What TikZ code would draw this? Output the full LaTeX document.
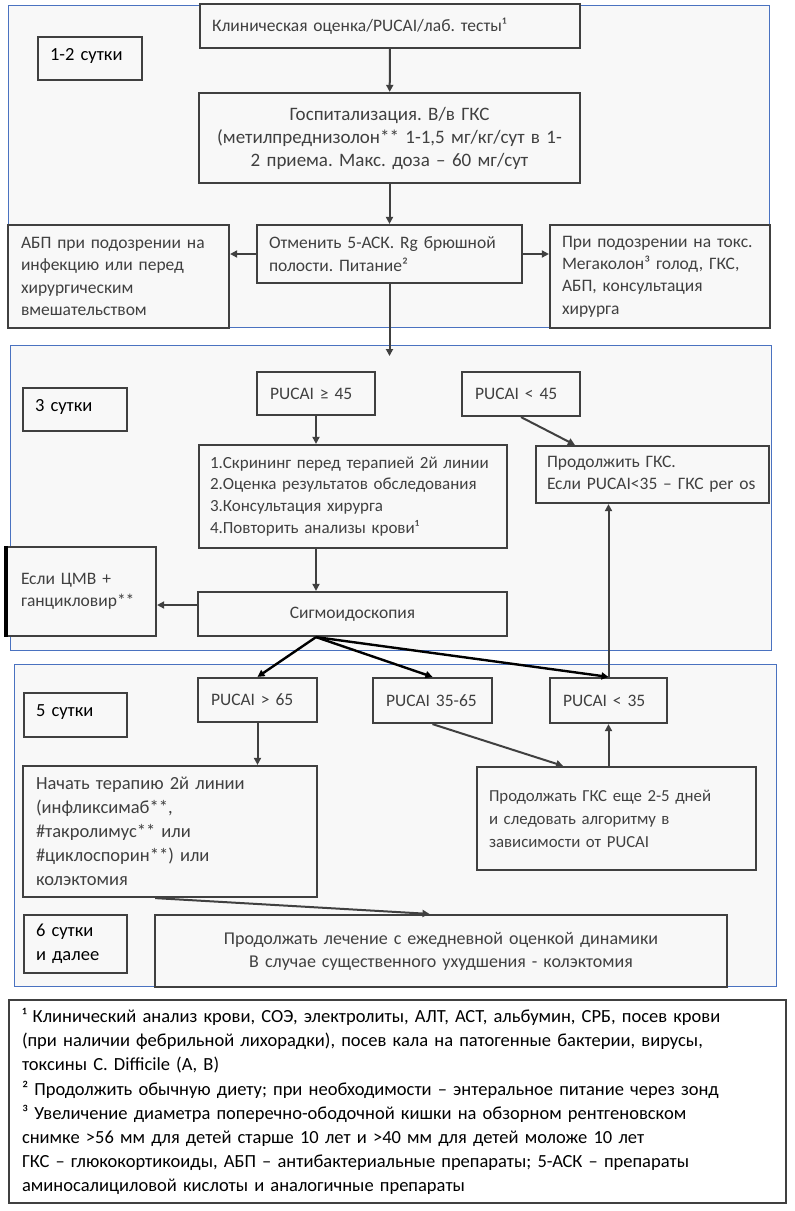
\documentclass[tikz,border=0pt]{standalone}
\usepackage{fontspec}
\setmainfont{Carlito}
\frenchspacing
\usepackage{tikz}
\usetikzlibrary{arrows.meta,calc}
\definecolor{boxline}{HTML}{404040}
\definecolor{frameblue}{HTML}{4A72C0}
\definecolor{paper}{HTML}{F8F8F8}
\definecolor{ink}{HTML}{404040}
\tikzset{dayframe/.style={draw=frameblue,line width=1pt,fill=paper},
  box/.style={rectangle,draw=boxline,line width=2.2pt,fill=paper,text=ink,inner sep=0pt,align=left,font=\fontsize{17.5}{22.3}\selectfont},
  boxwh/.style n args={3}{minimum width=#1,minimum height=#2,text width=#3},
  daybox/.style={box,text=black,font=\fontsize{18.5}{24}\selectfont},
  oneline/.style={text height=12pt,text depth=9pt},
  link/.style={draw=boxline,line width=2pt,->},
  forkline/.style={draw=black,line width=2.4pt,->}}

\begin{document}
\begin{tikzpicture}[x=1pt,y=-1pt,>={Triangle[length=7pt,width=7pt]}]
        \useasboundingbox (0,0) rectangle (795,1211);
        \draw[dayframe] (8,5) rectangle (769,327);
        \draw[dayframe] (10,345) rectangle (771,650);
        \draw[dayframe] (14,664) rectangle (776,986);

        \node[daybox,oneline,boxwh={104}{43}{80}] (day12) at (90,58.5) {1-2 сутки};
        \node[box,boxwh={380}{44}{356}] (clin) at (390,26) {Клиническая оценка/PUCAI/лаб. тесты¹};
        \node[box,align=center,font=\fontsize{19}{23}\selectfont,boxwh={381}{90}{363}] (hosp) at (389.5,138) {Госпитализация. В/в ГКС\\(метилпреднизолон** 1-1,5 мг/кг/сут в 1-\\2 приема. Макс. доза – 60 мг/сут};
        \node[box,boxwh={265}{58}{241}] (stop) at (389.5,254) {Отменить 5-АСК. Rg брюшной\\полости. Питание²};
        \node[box,boxwh={221}{103}{195}] (abp) at (118.5,276.5) {АБП при подозрении на\\инфекцию или перед\\хирургическим\\вмешательством};
        \node[box,boxwh={220}{103}{196}] (toxic) at (660,276.5) {При подозрении на токс.\\Мегаколон³ голод, ГКС,\\АБП, консультация\\хирурга};
        \coordinate (enter3) at (389.5,356);

        \node[daybox,oneline,boxwh={104}{43}{80}] (day3) at (75,409.5) {3 сутки};
        \node[box,boxwh={118}{43}{92}] (ge45) at (316,393.5) {PUCAI ≥ 45};
        \node[box,boxwh={118}{44}{92}] (lt45) at (521,394) {PUCAI < 45};
        \node[box,font=\fontsize{17}{21.8}\selectfont,boxwh={308}{103}{286}] (screen) at (353,496.5) {1.Скрининг перед терапией 2й линии\\2.Оценка результатов обследования\\3.Консультация хирурга\\4.Повторить анализы крови¹};
        \node[box,boxwh={233}{57}{211}] (contg) at (652.5,474.5) {Продолжить ГКС.\\Если PUCAI<35 – ГКС per os};
        \node[box,boxwh={149}{89}{121}] (cmv) at (81.5,591.5) {Если ЦМВ +\\ганцикловир**};
        \node[box,align=center,boxwh={309}{44}{285}] (sig) at (352.5,614) {Сигмоидоскопия};

        \node[daybox,oneline,boxwh={103}{44}{79}] (day5) at (75.5,715) {5 сутки};
        \node[box,boxwh={119}{44}{93}] (gt65) at (257.5,700) {PUCAI > 65};
        \node[box,boxwh={119}{45}{93}] (mid) at (432.5,700.5) {PUCAI 35-65};
        \node[box,boxwh={117}{45}{91}] (lt35) at (608.5,700.5) {PUCAI < 35};
        \node[box,font=\fontsize{18.5}{24}\selectfont,boxwh={294}{131}{268}] (start) at (170,831.5) {Начать терапию 2й линии\\(инфликсимаб**,\\\#такролимус** или\\\#циклоспорин**) или\\колэктомия};
        \node[box,font=\fontsize{16.8}{23}\selectfont,boxwh={279}{103}{255}] (more) at (616.5,818.5) {Продолжать ГКС еще 2-5 дней\\и следовать алгоритму в\\зависимости от PUCAI};
        \node[daybox,boxwh={103}{58}{79}] (day6) at (75.5,944) {6 сутки\\и далее};
        \node[box,align=center,font=\fontsize{18}{23}\selectfont,boxwh={572}{72}{546}] (cont6) at (441,951) {Продолжать лечение с ежедневной оценкой динамики\\В случае существенного ухудшения - колэктомия};

        \node[box,line width=1.4pt,fill=white,text=black,font=\fontsize{18.5}{24.2}\selectfont,boxwh={777}{203}{751}] (notes) at (397.5,1101.5) {¹ Клинический анализ крови, СОЭ, электролиты, АЛТ, АСТ, альбумин, СРБ, посев крови\\(при наличии фебрильной лихорадки), посев кала на патогенные бактерии, вирусы,\\токсины C. Difficile (A, B)\\² Продолжить обычную диету; при необходимости – энтеральное питание через зонд\\³ Увеличение диаметра поперечно-ободочной кишки на обзорном рентгеновском\\снимке >56 мм для детей старше 10 лет и >40 мм для детей моложе 10 лет\\ГКС – глюкокортикоиды, АБП – антибактериальные препараты; 5-АСК – препараты\\аминосалициловой кислоты и аналогичные препараты};

        \draw[line width=3.5pt] (cmv.north west) -- (cmv.south west);

        \draw[link] (clin) -- (hosp);
        \draw[link] (hosp) -- (stop);
        \draw[link] (stop.west) -- (stop.west -| abp.east);
        \draw[link] (stop.east) -- (stop.east -| toxic.west);
        \draw[link] (stop.south) -- (enter3);
        \draw[link] (ge45.south) -- (ge45.south |- screen.north);
        \draw[link] (lt45.south) -- ($(contg.north west)!0.17!(contg.north east)$);
        \draw[link] (screen.south -| ge45.south) -- (sig.north -| ge45.south);
        \draw[link] ([yshift=9pt]sig.west) -- ([yshift=9pt]sig.west -| cmv.east);
        \coordinate (fork) at (sig.south -| ge45.south);
        \draw[forkline] (fork) -- (gt65.north);
        \draw[forkline] (fork) -- (mid.north);
        \draw[forkline] (fork) -- (lt35.north);
        \draw[link] (lt35.north) -- (lt35.north |- contg.south);
        \draw[link] (gt65.south) -- (gt65.south |- start.north);
        \draw[link] (mid.south) -- ($(more.north west)!0.31!(more.north east)$);
        \draw[link] (lt35.south |- more.north) -- (lt35.south);
        \draw[link] ($(start.south west)!0.45!(start.south east)$) -- ($(cont6.north west)!0.48!(cont6.north east)$);
\end{tikzpicture}
\end{document}
